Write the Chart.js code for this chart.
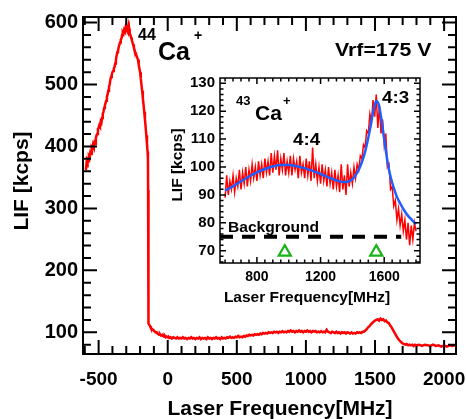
<!DOCTYPE html>
<html><head><meta charset="utf-8">
<script src="https://cdn.jsdelivr.net/npm/chart.js@4.4.1/dist/chart.umd.min.js"></script>
<style>
html,body{margin:0;padding:0;background:#fff;}
#wrap{position:relative;width:466px;height:419px;overflow:hidden;}
canvas{position:absolute;left:0;top:0;}
</style></head><body>
<div id="wrap"><canvas id="main" width="466" height="419"></canvas><canvas id="inset" width="466" height="419"></canvas></div>
<script>
// ---------------- DATA ----------------
const mainXTicks = [-500, 0, 500, 1000, 1500, 2000];
const mainYTicks = [100, 200, 300, 400, 500, 600];
const insetXTicks = [800, 1200, 1600];
const insetYTicks = [70, 80, 90, 100, 110, 120, 130];

// main LIF trace [frequency MHz, LIF kcps]
const mainTrace = [
[-592,362],[-588,372],[-584,368],[-580,378],[-575,376],[-570,384],[-565,382],[-560,390],[-555,388],[-550,398],
[-545,396],[-540,403],[-535,400],[-530,406],[-525,404],[-520,414],[-515,418],[-510,420],[-505,428],[-500,430],
[-495,434],[-490,432],[-485,440],[-480,438],[-475,446],[-470,452],[-465,456],[-460,462],[-455,466],[-450,470],
[-445,474],[-440,480],[-435,484],[-430,490],[-425,496],[-420,500],[-415,508],[-410,512],[-405,516],[-400,520],
[-395,522],[-390,526],[-385,528],[-380,534],[-375,540],[-370,546],[-365,552],[-360,554],[-355,560],[-350,564],
[-345,568],[-340,572],[-335,574],[-330,580],[-325,584],[-320,582],[-315,588],[-310,586],[-305,592],[-300,588],
[-297,596],[-294,587],[-291,594],[-288,585],[-285,592],[-282,586],[-279,590],[-275,582],[-270,580],[-265,576],
[-260,572],[-255,568],[-250,565],[-245,560],[-240,556],[-235,552],[-230,549],[-225,546],[-220,543],[-215,540],
[-210,532],[-205,526],[-200,520],[-195,510],[-190,500],[-185,490],[-180,478],[-175,468],[-170,456],[-165,444],
[-160,432],[-155,418],[-150,404],[-146,392],[-143,380],[-142,330],[-141,250],[-140,160],[-139,120],[-137,114],
[-133,112],[-128,110],[-122,107],[-116,106],[-110,104],[-104,104],[-98,102],[-92,101],[-86,100],[-80,100],
[-74,98],[-68,97],[-62,96],[-56,97],[-50,95],[-44,95],[-38,96],[-32,94],[-26,93],[-20,94],
[-14,92],[-8,93],[-2,92],[4,93],[10,91],[20,92],[30,90],[40,92],[50,91],[60,90],
[70,92],[80,90],[90,91],[100,90],[110,92],[120,90],[130,91],[140,89],[150,91],[160,90],
[170,92],[180,90],[190,91],[200,89],[210,91],[220,90],[230,92],[240,89],[250,91],[260,90],
[270,91],[280,89],[290,92],[300,90],[310,91],[320,89],[330,91],[340,90],[350,92],[360,90],
[370,91],[380,89],[390,92],[400,90],[410,91],[420,90],[430,92],[440,91],[450,93],[460,91],
[470,92],[480,91],[490,93],[500,92],[510,94],[520,92],[530,93],[540,92],[550,94],[560,93],
[570,95],[580,94],[590,96],[600,95],[610,96],[620,95],[630,97],[640,96],[650,97],[660,96],
[670,98],[680,97],[690,99],[700,98],[710,99],[720,98],[730,100],[740,99],[750,100],[760,99],
[770,101],[780,100],[790,101],[800,99],[810,101],[820,100],[830,102],[840,100],[850,101],[860,100],
[870,102],[880,101],[890,103],[900,101],[910,102],[920,100],[930,102],[940,101],[950,103],[960,101],
[970,102],[980,100],[990,102],[1000,101],[1010,103],[1020,101],[1030,102],[1040,100],[1050,102],[1060,101],
[1070,102],[1080,100],[1090,101],[1100,100],[1110,102],[1120,100],[1130,101],[1140,100],[1150,104],[1160,101],
[1170,100],[1180,99],[1190,101],[1200,100],[1210,99],[1220,101],[1230,99],[1240,100],[1250,98],[1260,100],
[1270,99],[1280,100],[1290,98],[1300,100],[1310,99],[1320,98],[1330,100],[1340,98],[1350,99],[1360,98],
[1370,100],[1380,99],[1390,100],[1400,99],[1410,101],[1420,101],[1430,103],[1440,105],[1450,108],[1460,110],
[1470,113],[1480,115],[1490,117],[1500,119],[1510,120],[1520,121],[1530,119],[1540,122],[1550,120],[1560,121],
[1570,118],[1580,119],[1590,116],[1600,115],[1610,111],[1620,108],[1630,104],[1640,100],[1650,96],[1660,92],
[1670,89],[1680,86],[1690,84],[1700,82],[1710,81],[1720,80],[1730,81],[1740,79],[1750,80],[1760,79],
[1770,80],[1780,78],[1790,80],[1800,79],[1820,80],[1840,78],[1860,80],[1880,79],[1900,78],[1920,80],
[1940,78],[1960,79],[1980,77],[2000,79],[2020,77],[2040,79],[2060,78],[2080,79]
];

// inset 43Ca+ trace [frequency MHz, LIF kcps]
const insetTrace = [
[600,89],[610,97],[620,90],[630,95],[640,92],[650,97],[660,91],[670,96],[680,93],[690,99],
[700,92],[710,98],[720,94],[730,100],[740,93],[750,99],[760,95],[770,101],[780,96],[790,100],
[800,95],[810,102],[820,97],[830,101],[840,96],[850,103],[860,98],[870,102],[880,97],[890,105],
[900,98],[910,104],[920,99],[930,106],[940,97],[950,103],[960,99],[970,105],[980,97],[990,102],
[1000,98],[1010,104],[1020,97],[1030,103],[1040,99],[1050,102],[1060,96],[1070,104],[1080,98],[1090,101],
[1100,96],[1110,103],[1120,97],[1130,102],[1140,95],[1150,107],[1160,96],[1170,101],[1180,95],[1190,100],
[1200,94],[1210,101],[1220,95],[1230,99],[1240,93],[1250,100],[1260,94],[1270,98],[1280,92],[1290,99],
[1300,93],[1310,97],[1320,91],[1330,101],[1340,92],[1350,97],[1360,90],[1370,101],[1380,93],[1390,98],
[1400,94],[1410,100],[1420,96],[1430,101],[1440,99],[1450,104],[1460,103],[1470,108],[1480,107],[1490,113],
[1500,112],[1510,119],[1520,116],[1530,124],[1540,118],[1550,126],[1560,114],[1570,122],[1580,112],[1590,117],
[1600,108],[1610,112],[1620,100],[1630,101],[1640,92],[1650,93],[1660,86],[1670,88],[1680,81],[1690,85],
[1700,79],[1710,83],[1720,77],[1730,81],[1740,74],[1750,80],[1760,72],[1770,79],[1780,74],[1790,80],[1800,77]
];

// fitted curve [frequency MHz, LIF kcps]
const fitCurve = [
[600,91.5],[650,93.1],[700,94.9],[750,96.6],[800,98.1],[850,99.3],[900,100.2],[950,100.7],[1000,100.7],
[1050,100.3],[1100,99.6],[1150,98.6],[1200,97.5],[1250,96.3],[1300,95.2],[1340,94.6],[1370,94.7],[1400,95.6],
[1420,97],[1440,99],[1460,101.8],[1480,105.5],[1500,110.5],[1520,116.5],[1535,121],[1550,123.7],[1565,122.5],
[1580,118],[1595,112],[1610,106],[1625,100.5],[1640,96.5],[1660,92.5],[1680,89.3],[1700,87],[1725,84.5],
[1750,82.5],[1775,81],[1800,79.5]
];

const backgroundLevel = [[568,75],[1707,75]];
const lineMarkers = [[975,69.5],[1550,69.5]];

// ---------------- HELPERS ----------------
const FONT = '"Liberation Sans", Arial, Helvetica, sans-serif';
Chart.defaults.font.family = FONT;
Chart.defaults.font.weight = 'bold';
Chart.defaults.color = '#000';
const toXY = arr => arr.map(p => ({x: p[0], y: p[1]}));

function txt(ctx, s, x, y, size, sx, align) {
  ctx.save();
  ctx.font = 'bold ' + size + 'px ' + FONT;
  ctx.fillStyle = '#000';
  ctx.textBaseline = 'alphabetic';
  ctx.textAlign = align || 'left';
  ctx.translate(x, y);
  ctx.scale(sx || 1, 1);
  ctx.fillText(s, 0, 0);
  ctx.restore();
}
function vtxt(ctx, s, x, y, size) {
  ctx.save();
  ctx.font = 'bold ' + size + 'px ' + FONT;
  ctx.fillStyle = '#000';
  ctx.textBaseline = 'alphabetic';
  ctx.textAlign = 'center';
  ctx.translate(x, y);
  ctx.rotate(-Math.PI / 2);
  ctx.fillText(s, 0, 0);
  ctx.restore();
}
function frameTicks(chart, c) {
  const {ctx, chartArea: a, scales: {x, y}} = chart;
  ctx.save();
  ctx.strokeStyle = '#000';
  ctx.lineWidth = c.lw;
  for (let v = c.xStart; v <= x.max; v += c.xStep) {
    const p = x.getPixelForValue(v);
    if (p < a.left + 1 || p > a.right - 1) continue;
    const L = c.xMaj.includes(v) ? c.maj : c.min;
    ctx.beginPath();
    ctx.moveTo(p, a.bottom); ctx.lineTo(p, a.bottom - L);
    ctx.moveTo(p, a.top); ctx.lineTo(p, a.top + L);
    ctx.stroke();
  }
  for (let v = c.yStart; v <= y.max; v += c.yStep) {
    const p = y.getPixelForValue(v);
    if (p < a.top + 1 || p > a.bottom - 1) continue;
    const L = c.yMaj.includes(v) ? c.maj : c.min;
    ctx.beginPath();
    ctx.moveTo(a.left, p); ctx.lineTo(a.left + L, p);
    ctx.moveTo(a.right, p); ctx.lineTo(a.right - L, p);
    ctx.stroke();
  }
  ctx.strokeRect(a.left, a.top, a.right - a.left, a.bottom - a.top);
  ctx.restore();
}
function fixW(w) { return s => { s.width = w; s.paddingTop = 0; s.paddingBottom = 0; s.paddingLeft = 0; s.paddingRight = 0; }; }
function fixH(h) { return s => { s.height = h; s.paddingTop = 0; s.paddingBottom = 0; s.paddingLeft = 0; s.paddingRight = 0; }; }
const setTicks = list => s => { s.ticks = list.map(v => ({value: v})); };

// ---------------- MAIN CHART ----------------
new Chart(document.getElementById('main'), {
  type: 'line',
  data: {datasets: [{
    data: toXY(mainTrace), borderColor: '#ff0000', borderWidth: 2.5,
    pointRadius: 0, tension: 0, fill: false
  }]},
  options: {
    responsive: false, animation: false, events: [],
    layout: {padding: {left: 0, right: 10, top: 17, bottom: 0}},
    plugins: {legend: {display: false}, tooltip: {enabled: false}},
    scales: {
      x: {type: 'linear', min: -613, max: 2086,
          grid: {display: false, drawTicks: false}, border: {display: false},
          afterBuildTicks: setTicks(mainXTicks), afterFit: fixH(65),
          ticks: {padding: 14, maxRotation: 0, font: {size: 19, weight: 'bold'}, callback: v => String(v)}},
      y: {type: 'linear', min: 65, max: 609,
          grid: {display: false, drawTicks: false}, border: {display: false},
          afterBuildTicks: setTicks(mainYTicks), afterFit: fixW(83),
          ticks: {padding: 5, font: {size: 20, weight: 'bold'}, callback: v => String(v)}}
    }
  },
  plugins: [{
    id: 'mainDecor',
    afterDraw(chart) {
      const ctx = chart.ctx;
      frameTicks(chart, {lw: 2, maj: 14, min: 8, xStart: -600, xStep: 100, xMaj: mainXTicks,
                         yStart: 80, yStep: 20, yMaj: mainYTicks});
      txt(ctx, 'Laser Frequency[MHz]', 280, 415, 21, 1, 'center');
      vtxt(ctx, 'LIF [kcps]', 28, 181, 21);
      txt(ctx, '44', 138, 40, 16);
      txt(ctx, 'Ca', 158, 60, 25);
      txt(ctx, '+', 194, 40, 14);
      txt(ctx, 'Vrf=175 V', 335, 56, 19, 1.12);
    }
  }]
});

// ---------------- INSET CHART ----------------
new Chart(document.getElementById('inset'), {
  type: 'line',
  data: {datasets: [
    {data: toXY(insetTrace), borderColor: '#ff0000', borderWidth: 1.5, pointRadius: 0, tension: 0, order: 3},
    {data: toXY(fitCurve), borderColor: '#1f5fff', borderWidth: 2.5, pointRadius: 0, cubicInterpolationMode: 'monotone', order: 2},
    {data: toXY(backgroundLevel), borderColor: '#000', borderWidth: 4, borderDash: [13, 9], pointRadius: 0, order: 1},
    {data: toXY(lineMarkers), showLine: false, pointStyle: 'triangle', pointRadius: 7,
     pointBorderColor: '#18b418', pointBackgroundColor: 'rgba(0,0,0,0)', pointBorderWidth: 2.2, order: 0}
  ]},
  options: {
    responsive: false, animation: false, events: [],
    layout: {padding: {left: 180, right: 46, top: 78, bottom: 136}},
    plugins: {legend: {display: false}, tooltip: {enabled: false}},
    scales: {
      x: {type: 'linear', min: 568, max: 1825,
          grid: {display: false, drawTicks: false}, border: {display: false},
          afterBuildTicks: setTicks(insetXTicks), afterFit: fixH(20),
          ticks: {padding: 6, maxRotation: 0, font: {size: 14, weight: 'bold'}, callback: v => String(v)}},
      y: {type: 'linear', min: 65.6, max: 131.9,
          grid: {display: false, drawTicks: false}, border: {display: false},
          afterBuildTicks: setTicks(insetYTicks), afterFit: fixW(40),
          ticks: {padding: 5, font: {size: 15, weight: 'bold'}, callback: v => String(v)}}
    }
  },
  plugins: [{
    id: 'insetDecor',
    beforeDraw(chart) {
      const {ctx, chartArea: a} = chart;
      ctx.save(); ctx.fillStyle = '#fff';
      ctx.fillRect(a.left, a.top, a.right - a.left, a.bottom - a.top);
      ctx.restore();
    },
    afterDraw(chart) {
      const ctx = chart.ctx;
      frameTicks(chart, {lw: 1.5, maj: 6, min: 3.5, xStart: 600, xStep: 50, xMaj: insetXTicks,
                         yStart: 66, yStep: 2, yMaj: insetYTicks});
      txt(ctx, 'Laser Frequency[MHz]', 307, 302, 15.5, 1, 'center');
      vtxt(ctx, 'LIF [kcps]', 181.5, 165, 15.5);
      txt(ctx, '43', 236, 105, 13);
      txt(ctx, 'Ca', 255, 120, 21);
      txt(ctx, '+', 283, 104.5, 13);
      txt(ctx, '4:4', 293, 145, 16, 1.17);
      txt(ctx, '4:3', 382, 103, 16, 1.17);
      txt(ctx, 'Background', 228, 232, 15, 1.04);
    }
  }]
});
</script>
</body></html>
